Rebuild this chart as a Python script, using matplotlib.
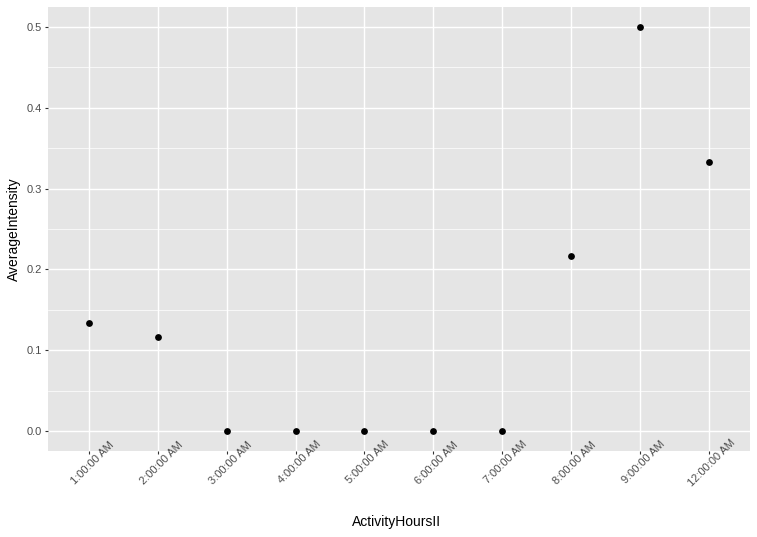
import matplotlib
matplotlib.use("Agg")
import matplotlib.pyplot as plt
import matplotlib.transforms as mtransforms
from matplotlib.ticker import MultipleLocator

plt.rcParams['font.family'] = ['Liberation Sans', 'DejaVu Sans']

hours = ["1:00:00 AM", "2:00:00 AM", "3:00:00 AM", "4:00:00 AM", "5:00:00 AM",
         "6:00:00 AM", "7:00:00 AM", "8:00:00 AM", "9:00:00 AM", "12:00:00 AM"]
avg_intensity = [0.1333, 0.1167, 0.0, 0.0, 0.0, 0.0, 0.0, 0.2167, 0.5, 0.3333]

W, H = 757, 537
fig = plt.figure(figsize=(W / 100, H / 100), dpi=100)
left, right, top, bottom = 47.7, 750, 6.8, 451.2
ax = fig.add_axes([left / W, 1 - bottom / H, (right - left) / W, (bottom - top) / H])
ax.set_facecolor('#E5E5E5')
for s in ax.spines.values():
    s.set_visible(False)

x = list(range(1, len(hours) + 1))
ax.scatter(x, avg_intensity, s=24, color='black', zorder=3, linewidths=0)

ax.set_xlim(0.4, len(hours) + 0.6)
ax.set_ylim(-0.025, 0.525)
ax.set_xticks(x)
ax.set_xticklabels([])
base = mtransforms.blended_transform_factory(ax.transData, ax.transAxes)
offset = mtransforms.ScaledTranslation(3.5 / 100, -11.5 / 100, fig.dpi_scale_trans)
for xi, lab in zip(x, hours):
    ax.text(xi, 0, lab, transform=base + offset, rotation=45, ha='center', va='center',
            rotation_mode='anchor', fontsize=8, color='#4D4D4D', clip_on=False)

ax.yaxis.set_minor_locator(MultipleLocator(0.05))
ax.set_yticks([0.0, 0.1, 0.2, 0.3, 0.4, 0.5])
ax.set_yticklabels(["0.0", "0.1", "0.2", "0.3", "0.4", "0.5"])

ax.grid(True, which='major', color='white', linewidth=1.0)
ax.grid(True, which='minor', axis='y', color='white', linewidth=0.5)
ax.set_axisbelow(True)
ax.tick_params(axis='both', which='major', length=2.2, width=0.8, color='#333333',
               labelsize=8, labelcolor='#4D4D4D')
ax.tick_params(axis='y', which='major', pad=2)
ax.tick_params(axis='both', which='minor', length=0)

ax.set_xlabel("ActivityHoursII", fontsize=10, color='black')
ax.set_ylabel("AverageIntensity", fontsize=10, color='black')
ax.xaxis.set_label_coords((397 - left) / (right - left), -(522 - bottom) / (bottom - top), transform=ax.transAxes)
ax.yaxis.set_label_coords(-(left - 14) / (right - left), 0.5)
ax.xaxis.label.set_va('center')
ax.yaxis.label.set_va('center')

fig.savefig("out.png", dpi=100)
